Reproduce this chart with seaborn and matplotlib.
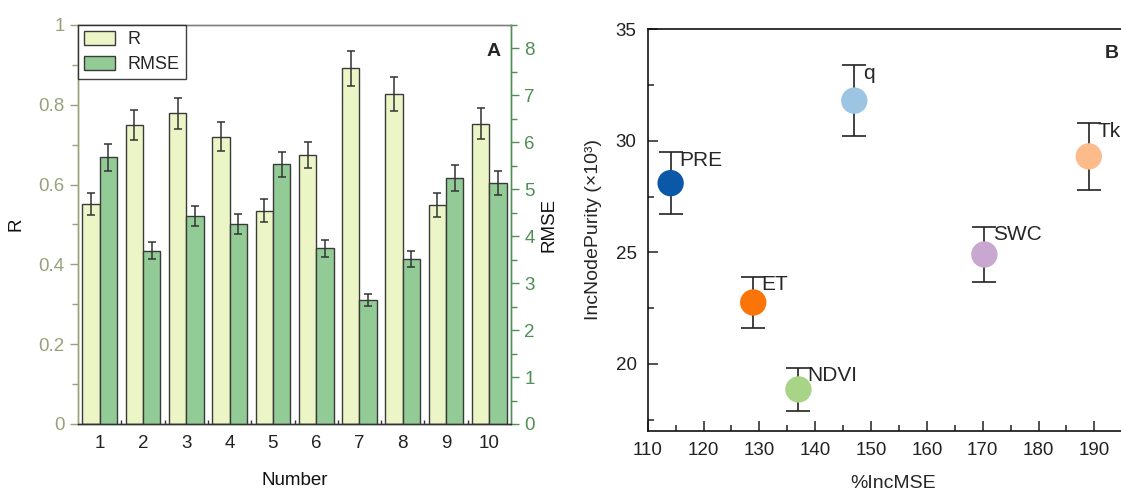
import numpy as np
import pandas as pd
import matplotlib
matplotlib.use("Agg")
import matplotlib.pyplot as plt
import seaborn as sns
from matplotlib.ticker import MultipleLocator

# panel A data
numbers = [1, 2, 3, 4, 5, 6, 7, 8, 9, 10]
r_vals = [0.551, 0.750, 0.779, 0.720, 0.535, 0.674, 0.892, 0.827, 0.549, 0.753]
r_err = [0.028, 0.038, 0.039, 0.036, 0.028, 0.033, 0.044, 0.042, 0.029, 0.038]
rmse_vals = [5.68, 3.69, 4.43, 4.26, 5.53, 3.74, 2.64, 3.51, 5.24, 5.13]
rmse_err = [0.28, 0.18, 0.21, 0.21, 0.27, 0.18, 0.13, 0.17, 0.27, 0.26]

# panel B data
variables = ["PRE", "ET", "NDVI", "q", "SWC", "Tk"]
inc_mse = [114.1, 128.9, 137.0, 147.0, 170.3, 189.0]
node_purity = [28.1, 22.75, 18.85, 31.8, 24.9, 29.3]
purity_err = [1.4, 1.15, 0.97, 1.58, 1.25, 1.5]
point_colors = ["#0B58A8", "#FC7306", "#A7D487", "#9CC5E3", "#C8A8D1", "#FDBA8A"]

sns.set_style("ticks")
plt.rcParams['font.family'] = ['Liberation Sans', 'DejaVu Sans']

fig = plt.figure(figsize=(11.21, 4.97), dpi=100)

olive = "#98A27A"
green = "#4F8F55"
r_color = "#ECF5C6"
rmse_color = "#93CB96"
edge = "#3A3A3A"

# ---------------- panel A ----------------
ax = fig.add_axes([0.0696, 0.1469, 0.3863, 0.8028])
ax2 = ax.twinx()

df_r = pd.DataFrame({"Number": numbers, "value": r_vals, "metric": "R"})
df_rmse = pd.DataFrame({"Number": numbers, "value": rmse_vals, "metric": "RMSE"})
order = ["R", "RMSE"]
pal = {"R": r_color, "RMSE": rmse_color}

sns.barplot(data=df_r, x="Number", y="value", hue="metric", hue_order=order,
            palette=pal, saturation=1, errorbar=None, edgecolor=edge, linewidth=1.0,
            width=0.8, dodge=True, legend=False, ax=ax)
sns.barplot(data=df_rmse, x="Number", y="value", hue="metric", hue_order=order,
            palette=pal, saturation=1, errorbar=None, edgecolor=edge, linewidth=1.0,
            width=0.8, dodge=True, legend=False, ax=ax2)

cont_r = [c for c in ax.containers if len(c) > 0][0]
cont_m = [c for c in ax2.containers if len(c) > 0][0]
xr = [b.get_x() + b.get_width() / 2 for b in cont_r]
xm = [b.get_x() + b.get_width() / 2 for b in cont_m]
ax.errorbar(xr, r_vals, yerr=r_err, fmt="none", ecolor="#333333",
            elinewidth=1.1, capsize=3.2, capthick=1.1, zorder=5)
ax2.errorbar(xm, rmse_vals, yerr=rmse_err, fmt="none", ecolor="#333333",
             elinewidth=1.1, capsize=3.2, capthick=1.1, zorder=5)

ax.set_xlim(-0.5, 9.5)
ax.set_ylim(0, 1)
ax2.set_ylim(0, 8.5)
ax.set_yticks([0, 0.2, 0.4, 0.6, 0.8, 1.0])
ax.set_yticklabels(["0", "0.2", "0.4", "0.6", "0.8", "1"])
ax.yaxis.set_minor_locator(MultipleLocator(0.1))
ax2.set_yticks(range(0, 9))
ax2.yaxis.set_minor_locator(MultipleLocator(0.5))
ax.set_xticks(range(10))
ax.set_xticks(np.arange(0.5, 9.5, 1.0), minor=True)

ax.tick_params(axis="y", which="major", colors=olive, labelsize=13.5, length=6, width=1, direction="out")
ax.tick_params(axis="y", which="minor", colors=olive, length=4, width=1, direction="out")
ax2.tick_params(axis="y", which="major", colors=green, labelsize=13.5, length=6, width=1, direction="out")
ax2.tick_params(axis="y", which="minor", colors=green, length=4, width=1, direction="out")
ax.tick_params(axis="x", which="major", length=0, labelsize=13.5, labelcolor="#222222", pad=8)
ax.tick_params(axis="x", which="minor", length=3, width=1, direction="in", color="#333333")

ax.spines["left"].set_color(olive)
ax2.spines["left"].set_color(olive)
ax2.spines["right"].set_color(green)
ax.spines["right"].set_color(green)
for a in (ax, ax2):
    a.spines["top"].set_visible(True)
    a.spines["top"].set_color("#808080")
    a.spines["bottom"].set_color("#333333")
    for s in a.spines.values():
        s.set_linewidth(1.0)

ax.set_xlabel("Number", fontsize=13.5, color="#111111", labelpad=14)
ax.set_ylabel("R", fontsize=13.5, color="#111111", labelpad=10)
ax2.set_ylabel("RMSE", fontsize=13.5, color="#111111", labelpad=4)

leg = ax2.legend([cont_r, cont_m], ["R", "RMSE"],
                 loc="upper left", borderaxespad=0, frameon=True, fancybox=False,
                 fontsize=13, handlelength=1.7, handleheight=0.8, borderpad=0.35,
                 labelspacing=0.4, handletextpad=0.7)
leg.get_frame().set_edgecolor("#111111")
leg.get_frame().set_linewidth(1.0)
ax2.text(0.975, 0.955, "A", transform=ax.transAxes, ha="right", va="top",
         fontsize=14, fontweight="bold")

# ---------------- panel B ----------------
bx = fig.add_axes([0.5778, 0.1334, 0.4383, 0.8077])
df_b = pd.DataFrame({"var": variables, "IncMSE": inc_mse, "purity": node_purity})
bx.errorbar(inc_mse, node_purity, yerr=purity_err, fmt="none", ecolor="#222222",
            elinewidth=1.2, capsize=8.5, capthick=1.2, zorder=2)
sns.scatterplot(data=df_b, x="IncMSE", y="purity", hue="var", hue_order=variables,
                palette=dict(zip(variables, point_colors)), s=360, linewidth=0,
                legend=False, zorder=3, ax=bx)
for name, xv, yv, ev in zip(variables, inc_mse, node_purity, purity_err):
    bx.annotate(name, (xv, yv + ev), xytext=(6, 1), textcoords="offset points",
                ha="left", va="top", fontsize=15)

bx.set_xlim(110, 198)
bx.set_ylim(17, 35)
bx.set_xticks(range(110, 200, 10))
bx.xaxis.set_minor_locator(MultipleLocator(5))
bx.set_yticks([20, 25, 30, 35])
bx.yaxis.set_minor_locator(MultipleLocator(2.5))
bx.tick_params(which="major", direction="in", length=7, width=1.1, labelsize=13.5,
               colors="#222222", pad=8)
bx.tick_params(which="minor", direction="in", length=4, width=1.1, color="#222222")
for s in bx.spines.values():
    s.set_linewidth(1.2)
    s.set_color("#111111")
bx.set_xlabel("%IncMSE", fontsize=14, labelpad=12)
bx.set_ylabel("IncNodePurity (×10³)", fontsize=14, labelpad=10)
# panel letter kept just inside the right edge of the picture
fig.text(0.998, 0.91, "B", ha="right", va="top", fontsize=14, fontweight="bold")

fig.savefig("out.png", dpi=100)
